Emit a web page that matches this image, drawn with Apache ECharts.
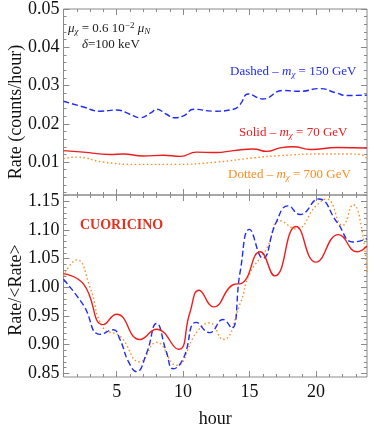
<!DOCTYPE html>
<html>
<head>
<meta charset="utf-8">
<script src="https://cdn.jsdelivr.net/npm/echarts@6/dist/echarts.min.js"></script>
<style>
  html, body { margin: 0; padding: 0; background: #fff; }
  #chart { width: 374px; height: 429px; }
</style>
</head>
<body>
<div id="chart"></div>
<script>
// hour axis
const hourMin = 1;
const hourMax = 23.84;
const hourLabels = [5, 10, 15, 20];
const hourTicks = [1, 2, 3, 4, 6, 7, 8, 9, 11, 12, 13, 14, 16, 17, 18, 19, 21, 22, 23];

// top panel: absolute rate (counts/hour)
const rateLabels = [0.01, 0.02, 0.03, 0.04, 0.05];
const rateTicks = [0.002, 0.004, 0.006, 0.008, 0.012, 0.014, 0.016, 0.018, 0.022, 0.024, 0.026, 0.028,
  0.032, 0.034, 0.036, 0.038, 0.042, 0.044, 0.046, 0.048];

const dashedRate = [
  [1.0, 0.0259], [2.5, 0.0244], [3.75, 0.0233], [5.0, 0.0236], [6.0, 0.0225], [6.75, 0.0216],
  [7.6, 0.0229], [8.0, 0.0238], [8.75, 0.0225], [9.3, 0.0216], [10.0, 0.0220], [10.8, 0.0238],
  [12.3, 0.0233], [13.8, 0.0238], [14.3, 0.0251], [14.9, 0.0278], [16.0, 0.0265], [17.5, 0.0287],
  [18.8, 0.0285], [20.3, 0.0292], [21.5, 0.0281], [22.3, 0.0274], [23.84, 0.0275]
];
const solidRate = [
  [1.0, 0.0130], [2.5, 0.0126], [4.5, 0.0120], [5.5, 0.0121], [7.0, 0.0116], [8.5, 0.0118],
  [9.8, 0.0115], [11.0, 0.0126], [12.5, 0.0125], [13.8, 0.0130], [15.3, 0.0134], [16.3, 0.0128],
  [17.3, 0.0137], [18.3, 0.0140], [19.6, 0.0133], [21.6, 0.0138], [23.84, 0.0137]
];
const dottedRate = [
  [1.0, 0.0109], [2.0, 0.0113], [4.0, 0.0100], [6.5, 0.0094], [9.5, 0.0094], [12.5, 0.0100],
  [15.3, 0.0111], [17.3, 0.0117], [20.3, 0.0121], [22.5, 0.0121], [23.3, 0.0120], [23.84, 0.0109]
];

// bottom panel: rate / <rate>
const ratioLabels = [0.85, 0.90, 0.95, 1.00, 1.05, 1.10, 1.15];
const ratioTicks = [0.86, 0.87, 0.88, 0.89, 0.91, 0.92, 0.93, 0.94, 0.96, 0.97, 0.98, 0.99,
  1.01, 1.02, 1.03, 1.04, 1.06, 1.07, 1.08, 1.09, 1.11, 1.12, 1.13, 1.14, 1.16];

const solidRatio = [
  [1.0, 1.024], [2.5, 1.006], [4.0, 0.935], [5.0, 0.953], [6.75, 0.909], [8.0, 0.927],
  [9.65, 0.892], [10.5, 0.955], [11.2, 0.995], [12.3, 0.966], [13.8, 1.005], [14.4, 1.007],
  [15.8, 1.062], [16.9, 1.020], [18.5, 1.106], [20.0, 1.044], [21.7, 1.092], [23.1, 1.062],
  [23.84, 1.072]
];
const dashedRatio = [
  [1.0, 1.014], [2.5, 0.969], [3.75, 0.918], [4.75, 0.926], [5.25, 0.909], [5.9, 0.870],
  [6.5, 0.853], [7.25, 0.885], [8.0, 0.937], [8.75, 0.887], [9.25, 0.858], [10.0, 0.875],
  [11.0, 0.939], [12.0, 0.921], [13.0, 0.944], [13.65, 0.929], [14.3, 1.028], [15.0, 1.101],
  [16.0, 1.051], [17.0, 1.113], [17.9, 1.142], [18.8, 1.127], [20.2, 1.154], [21.6, 1.113],
  [22.8, 1.079], [23.84, 1.085]
];
const dottedRatio = [
  [1.0, 1.020], [2.0, 1.048], [3.0, 1.000], [4.0, 0.929], [5.25, 0.915], [6.75, 0.870],
  [8.0, 0.904], [9.5, 0.864], [11.0, 0.921], [12.0, 0.938], [13.0, 0.909], [14.3, 0.972],
  [15.0, 1.023], [16.3, 1.068], [17.3, 1.116], [18.5, 1.102], [20.0, 1.142], [20.8, 1.154],
  [22.0, 1.108], [22.8, 1.144], [23.4, 1.108], [23.84, 1.023]
];

const BLUE = '#1f2cf5';
const RED = '#ee1c1c';
const ORANGE = '#ff8a1e';
const FRAME = '#8a8a8a';
const SERIF = '"Liberation Serif", "DejaVu Serif", serif';

// one axis = one tick set; major/minor ticks on all four sides are
// drawn with two axes per side
function frameAxis(kind, gridIndex, position, min, max, ticks, len, labels) {
  return {
    type: 'value',
    gridIndex: gridIndex,
    position: position,
    min: min,
    max: max,
    axisLine: { show: false },
    splitLine: { show: false },
    axisTick: {
      show: true,
      inside: true,
      length: len,
      customValues: ticks,
      lineStyle: { color: FRAME, width: 1 }
    },
    axisLabel: labels ? {
      show: true,
      customValues: labels,
      margin: kind === 'y' ? 4 : 6,
      color: '#111',
      fontFamily: SERIF,
      fontSize: 18,
      formatter: v => kind === 'y' ? v.toFixed(2) : String(v)
    } : { show: false }
  };
}

const xAxis = [];
const yAxis = [];
// grid 0 (top)
xAxis.push(frameAxis('x', 0, 'bottom', hourMin, hourMax, hourLabels, 6, null));   // 0
xAxis.push(frameAxis('x', 0, 'bottom', hourMin, hourMax, hourTicks, 3, null));    // 1
xAxis.push(frameAxis('x', 0, 'top', hourMin, hourMax, hourLabels, 6, null));      // 2
xAxis.push(frameAxis('x', 0, 'top', hourMin, hourMax, hourTicks, 3, null));       // 3
// grid 1 (bottom)
const xb = frameAxis('x', 1, 'bottom', hourMin, hourMax, hourLabels, 6, hourLabels); // 4
xb.name = 'hour';
xb.nameLocation = 'middle';
xb.nameGap = 33;
xb.nameTextStyle = { fontFamily: SERIF, fontSize: 18, color: '#111' };
xAxis.push(xb);
xAxis.push(frameAxis('x', 1, 'bottom', hourMin, hourMax, hourTicks, 3, null));    // 5
xAxis.push(frameAxis('x', 1, 'top', hourMin, hourMax, hourLabels, 6, null));      // 6
xAxis.push(frameAxis('x', 1, 'top', hourMin, hourMax, hourTicks, 3, null));       // 7

yAxis.push(frameAxis('y', 0, 'left', 0.0014, 0.05, rateLabels, 6, rateLabels));   // 0
yAxis.push(frameAxis('y', 0, 'left', 0.0014, 0.05, rateTicks, 3, null));          // 1
yAxis.push(frameAxis('y', 0, 'right', 0.0014, 0.05, rateLabels, 6, null));        // 2
yAxis.push(frameAxis('y', 0, 'right', 0.0014, 0.05, rateTicks, 3, null));         // 3
yAxis.push(frameAxis('y', 1, 'left', 0.8437, 1.161, ratioLabels, 6, ratioLabels)); // 4
yAxis.push(frameAxis('y', 1, 'left', 0.8437, 1.161, ratioTicks, 3, null));         // 5
yAxis.push(frameAxis('y', 1, 'right', 0.8437, 1.161, ratioLabels, 6, null));       // 6
yAxis.push(frameAxis('y', 1, 'right', 0.8437, 1.161, ratioTicks, 3, null));        // 7

function line(data, color, type, xi, yi) {
  return {
    type: 'line',
    data: data,
    xAxisIndex: xi,
    yAxisIndex: yi,
    smooth: 0.5,
    showSymbol: false,
    silent: true,
    lineStyle: { color: color, width: 1.4, type: type },
    z: 3
  };
}

const DASH = [6, 3];
const DOT = [1.5, 2.5];

function subLabel(text, color) {
  return {
    text: text, font: '13px ' + SERIF, fill: color,
    rich: {
      i: { fontStyle: 'italic', fontSize: 13, fontFamily: SERIF, fill: color },
      sub: { fontStyle: 'italic', fontSize: 9, fontFamily: SERIF, fill: color, verticalAlign: 'bottom', padding: [6, 0, 0, 0] }
    }
  };
}

const chart = echarts.init(document.getElementById('chart'), null, { renderer: 'canvas' });
chart.setOption({
  animation: false,
  backgroundColor: '#fff',
  grid: [
    { left: 63.5, right: 7, top: 6, height: 189, show: true, borderColor: FRAME, borderWidth: 1, backgroundColor: 'transparent' },
    { left: 63.5, right: 7, top: 195, height: 186.7, show: true, borderColor: FRAME, borderWidth: 1, backgroundColor: 'transparent' }
  ],
  xAxis: xAxis,
  yAxis: yAxis,
  graphic: [
    {
      type: 'text', x: 16, y: 112, rotation: Math.PI / 2,
      style: { text: 'Rate (counts/hour)', font: '18px ' + SERIF, fill: '#111', align: 'center', verticalAlign: 'middle' }
    },
    {
      type: 'text', x: 16, y: 290, rotation: Math.PI / 2,
      style: { text: 'Rate/<Rate>', font: '18px ' + SERIF, fill: '#111', align: 'center', verticalAlign: 'middle' }
    },
    {
      type: 'text', x: 68, y: 21,
      style: {
        text: '{i|μ}{sub|χ} = 0.6 10{sup|−2} {i|μ}{sub|N}',
        font: '13px ' + SERIF, fill: '#222',
        rich: {
          i: { fontStyle: 'italic', fontSize: 13, fontFamily: SERIF, fill: '#222' },
          sub: { fontStyle: 'italic', fontSize: 9, fontFamily: SERIF, fill: '#222', verticalAlign: 'bottom', padding: [6, 0, 0, 0] },
          sup: { fontSize: 9, fontFamily: SERIF, fill: '#222', verticalAlign: 'top', padding: [0, 0, 6, 0] }
        }
      }
    },
    {
      type: 'text', x: 82, y: 38,
      style: {
        text: '{i|δ}=100 keV', font: '13px ' + SERIF, fill: '#222',
        rich: { i: { fontStyle: 'italic', fontSize: 13, fontFamily: SERIF, fill: '#222' } }
      }
    },
    { type: 'text', x: 230, y: 64, style: subLabel('Dashed – {i|m}{sub|χ} = 150 GeV', BLUE) },
    { type: 'text', x: 239, y: 125, style: subLabel('Solid – {i|m}{sub|χ} = 70 GeV', RED) },
    { type: 'text', x: 228, y: 167, style: subLabel('Dotted – {i|m}{sub|χ} = 700 GeV', ORANGE) },
    {
      type: 'text', x: 80, y: 218,
      style: { text: 'CUORICINO', font: 'bold 14px ' + SERIF, fill: '#e4301e' }
    }
  ],
  series: [
    line(dashedRate, BLUE, DASH, 0, 0),
    line(solidRate, RED, 'solid', 0, 0),
    line(dottedRate, ORANGE, DOT, 0, 0),
    line(dottedRatio, ORANGE, DOT, 4, 4),
    line(dashedRatio, BLUE, DASH, 4, 4),
    line(solidRatio, RED, 'solid', 4, 4)
  ]
});
</script>
</body>
</html>
